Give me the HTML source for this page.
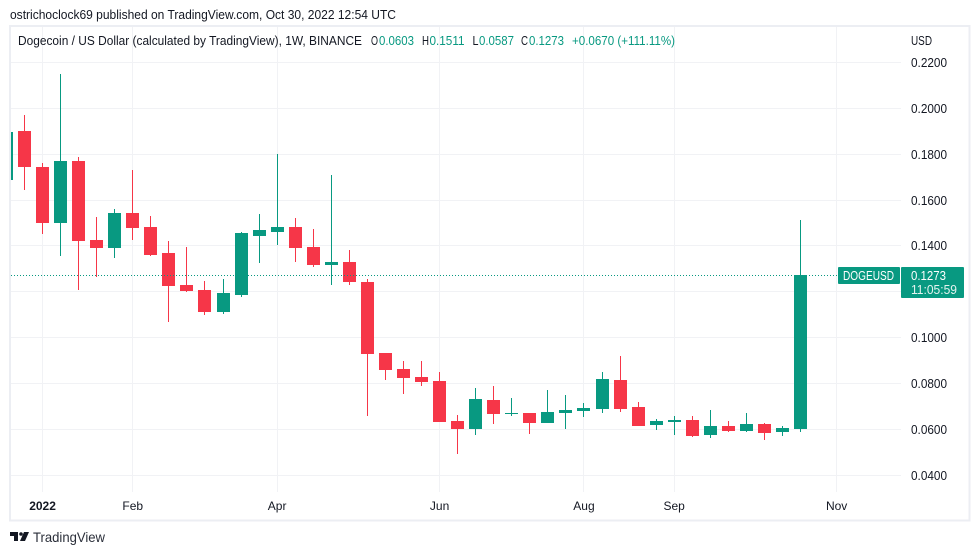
<!DOCTYPE html>
<html lang="en">
<head>
<meta charset="utf-8">
<title>DOGEUSD 1W chart</title>
<style>
html,body{margin:0;padding:0;background:#fff;width:979px;height:555px;overflow:hidden}
svg{display:block}
text{font-family:"Liberation Sans",sans-serif;font-size:13px;fill:#131722}
.up{fill:#089981}
</style>
</head>
<body>
<svg id="chart" xmlns="http://www.w3.org/2000/svg" width="979" height="555" viewBox="0 0 979 555">
  <defs><clipPath id="pane-clip"><rect x="11" y="27" width="890" height="465"/></clipPath></defs>
  <text x="10" y="19" textLength="386" lengthAdjust="spacingAndGlyphs">ostrichoclock69 published on TradingView.com, Oct 30, 2022 12:54 UTC</text>
  <rect x="10" y="26" width="959.5" height="494.5" fill="none" stroke="#eceef3" stroke-width="2" shape-rendering="crispEdges"/>
  <g id="grid" shape-rendering="crispEdges"></g>
  <g id="candles" clip-path="url(#pane-clip)" shape-rendering="crispEdges"></g>
  <line id="last-line" x1="11" x2="838" stroke="#089981" stroke-width="1" stroke-dasharray="1 2"/>
  <g id="y-axis"></g>
  <g id="x-axis"></g>
  <g>
    <text x="18" y="45" textLength="344" lengthAdjust="spacingAndGlyphs">Dogecoin / US Dollar (calculated by TradingView), 1W, BINANCE</text>
    <text x="371" y="45" textLength="7" lengthAdjust="spacingAndGlyphs">O</text>
    <text class="up" x="379" y="45" textLength="35" lengthAdjust="spacingAndGlyphs">0.0603</text>
    <text x="422" y="45" textLength="7" lengthAdjust="spacingAndGlyphs">H</text>
    <text class="up" x="429.5" y="45" textLength="35" lengthAdjust="spacingAndGlyphs">0.1511</text>
    <text x="472.5" y="45" textLength="6" lengthAdjust="spacingAndGlyphs">L</text>
    <text class="up" x="479" y="45" textLength="35" lengthAdjust="spacingAndGlyphs">0.0587</text>
    <text x="521" y="45" textLength="7" lengthAdjust="spacingAndGlyphs">C</text>
    <text class="up" x="529" y="45" textLength="35" lengthAdjust="spacingAndGlyphs">0.1273</text>
    <text class="up" x="572" y="45" textLength="103" lengthAdjust="spacingAndGlyphs">+0.0670 (+111.11%)</text>
  </g>
  <text x="911" y="45" textLength="21" lengthAdjust="spacingAndGlyphs">USD</text>
  <g>
    <rect x="838" y="267" width="62" height="17" rx="1" fill="#089981"/>
    <text x="843" y="280" style="fill:#fff" textLength="51" lengthAdjust="spacingAndGlyphs">DOGEUSD</text>
  </g>
  <g>
    <rect x="901" y="267" width="63" height="31" rx="1" fill="#089981"/>
    <text x="911" y="280" style="fill:#fff" textLength="35" lengthAdjust="spacingAndGlyphs">0.1273</text>
    <text x="911" y="294" style="fill:#e4f3ef" textLength="46" lengthAdjust="spacingAndGlyphs">11:05:59</text>
  </g>
  <g>
    <path d="M10 532h8v9h-4v-5h-4z M24 532h5l-4 9h-5z" fill="#131722"/>
    <circle cx="21" cy="534" r="1.8" fill="#131722"/>
    <text x="33" y="542" style="font-size:14px;fill:#2a2e39" textLength="72" lengthAdjust="spacingAndGlyphs">TradingView</text>
  </g>
</svg>
<script>
const opens = [0.1687,0.1901,0.1744,0.1500,0.1770,0.1426,0.1391,0.1543,0.1482,0.1369,0.1230,0.1208,0.1112,0.1186,0.1443,0.1461,0.1482,0.1395,0.1317,0.1330,0.1243,0.0933,0.0864,0.0829,0.0811,0.0637,0.0602,0.0729,0.0668,0.0672,0.0628,0.0672,0.0681,0.0689,0.0816,0.0698,0.0620,0.0633,0.0641,0.0576,0.0615,0.0594,0.0624,0.0589,0.0603];
const highs = [0.1896,0.1970,0.1761,0.2149,0.1787,0.1526,0.1561,0.1731,0.1530,0.1421,0.1395,0.1247,0.1256,0.1461,0.1539,0.1800,0.1522,0.1474,0.1709,0.1382,0.1256,0.0933,0.0898,0.0898,0.0851,0.0663,0.0781,0.0790,0.0737,0.0672,0.0772,0.0750,0.0716,0.0851,0.0920,0.0720,0.0646,0.0659,0.0659,0.0685,0.0637,0.0672,0.0628,0.0615,0.1511];
const lows = [0.1687,0.1644,0.1452,0.1356,0.1208,0.1265,0.1347,0.1426,0.1356,0.1068,0.1199,0.1099,0.1103,0.1177,0.1326,0.1404,0.1330,0.1308,0.1230,0.1230,0.0659,0.0816,0.0755,0.0790,0.0633,0.0493,0.0576,0.0624,0.0659,0.0580,0.0628,0.0602,0.0655,0.0672,0.0676,0.0615,0.0598,0.0576,0.0567,0.0563,0.0589,0.0589,0.0554,0.0572,0.0587];
const closes = [0.1896,0.1744,0.1500,0.1770,0.1421,0.1391,0.1543,0.1478,0.1360,0.1225,0.1203,0.1112,0.1195,0.1456,0.1469,0.1482,0.1391,0.1317,0.1330,0.1243,0.0929,0.0859,0.0824,0.0807,0.0633,0.0602,0.0733,0.0668,0.0672,0.0628,0.0676,0.0685,0.0694,0.0820,0.0689,0.0615,0.0637,0.0641,0.0572,0.0615,0.0594,0.0624,0.0585,0.0607,0.1273];
const priceTicks = [0.22,0.20,0.18,0.16,0.14,0.12,0.10,0.08,0.06,0.04];
const timeLabels = ["2022","Feb","Apr","Jun","Aug","Sep","Nov"];
const timeIndexes = [2,7,15,24,32,37,46];
const lastPrice = 0.1273;

const NS = "http://www.w3.org/2000/svg";
const UP = "#089981", DOWN = "#f63648", GRID = "#f1f2f5";
const yScale = p => 62.3 + (0.22 - p) * 2295;
const xScale = i => 6.45 + i * 18.047;
const gridG = document.getElementById("grid");
const candleG = document.getElementById("candles");
const yAxisG = document.getElementById("y-axis");
const xAxisG = document.getElementById("x-axis");

function make(tag, parent, attrs) {
  const node = document.createElementNS(NS, tag);
  for (const k in attrs) node.setAttribute(k, attrs[k]);
  parent.appendChild(node);
  return node;
}

priceTicks.forEach(p => {
  const row = Math.floor(yScale(p));
  const line = make("rect", gridG, {x: 11, y: row, width: 890, height: 1, fill: GRID});
  
  
  const label = make("text", yAxisG, {x: 911, y: row + 5, textLength: 36, lengthAdjust: "spacingAndGlyphs"});
  label.textContent = p.toFixed(4);
  
  
});

timeIndexes.forEach((idx, k) => {
  const cx = xScale(idx);
  const line = make("rect", gridG, {x: Math.floor(cx), y: 27, width: 1, height: 465, fill: GRID});
  
  
  const label = make("text", xAxisG, {x: cx, y: 510, "text-anchor": "middle", style: "font-size:12px"});
  label.textContent = timeLabels[k];
  if (k === 0) label.setAttribute("font-weight", "bold");
  
  
});

opens.forEach((o, i) => {
  const c = closes[i];
  const color = c >= o ? UP : DOWN;
  const left = Math.round(xScale(i) - 6.5);
  const top = Math.round(yScale(Math.max(o, c)));
  const bottom = Math.round(yScale(Math.min(o, c)));
  const wickTop = Math.round(yScale(highs[i]));
  const wickBottom = Math.round(yScale(lows[i]));
  const wick = make("rect", candleG, {x: left + 6, y: wickTop, width: 1, height: Math.max(1, wickBottom - wickTop), fill: color});
  
  
  const body = make("rect", candleG, {x: left, y: top, width: 13, height: Math.max(1, bottom - top), fill: color});
  
  
});

const lastLine = document.getElementById("last-line");
const lastY = Math.floor(yScale(lastPrice)) + 0.5;
lastLine.setAttribute("y1", lastY);
lastLine.setAttribute("y2", lastY);
</script>
</body>
</html>
